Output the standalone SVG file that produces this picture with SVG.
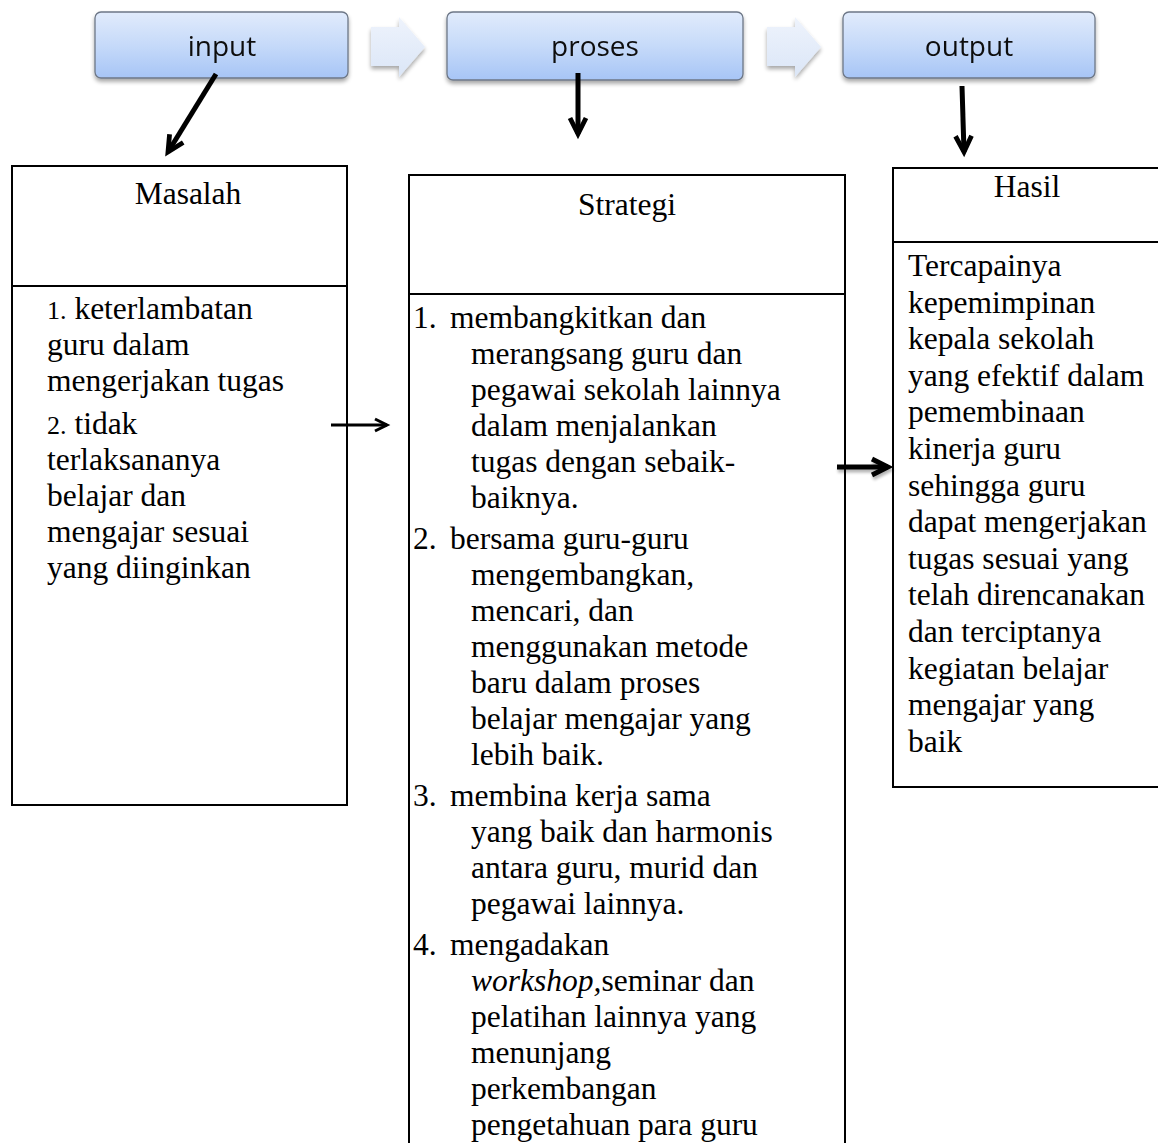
<svg xmlns="http://www.w3.org/2000/svg" width="1158" height="1143" viewBox="0 0 1158 1143">
<style>
.top{stroke:#6d7787;stroke-width:1.3;fill:url(#gBlue)}
.toptxt{font-family:"Open Sans","Noto Sans",sans-serif;font-size:28px;fill:#111;text-anchor:middle}
.chev{fill:url(#gChev)}
.box{fill:#fff;stroke:#000;stroke-width:2}
.div{stroke:#000;stroke-width:2}
.t{font-family:"Liberation Serif","Times New Roman",serif;font-size:31.5px;fill:#000}
.h{text-anchor:middle}
.arr{stroke:#000;fill:none;stroke-linecap:butt}
</style>
<defs>
<linearGradient id="gBlue" x1="0" y1="0" x2="0" y2="1">
<stop offset="0" stop-color="#e1ebfc"/>
<stop offset="0.5" stop-color="#c6daf9"/>
<stop offset="1" stop-color="#a7c5f6"/>
</linearGradient>
<linearGradient id="gChev" x1="0" y1="0" x2="0" y2="1">
<stop offset="0" stop-color="#eef3fc"/>
<stop offset="1" stop-color="#dbe6f7"/>
</linearGradient>
<filter id="sh" x="-10%" y="-20%" width="120%" height="150%">
<feGaussianBlur in="SourceAlpha" stdDeviation="2"/>
<feOffset dx="0" dy="3" result="b"/>
<feComponentTransfer><feFuncA type="linear" slope="0.35"/></feComponentTransfer>
<feMerge><feMergeNode/><feMergeNode in="SourceGraphic"/></feMerge>
</filter>
<filter id="sh2" filterUnits="userSpaceOnUse" x="820" y="445" width="90" height="50">
<feGaussianBlur in="SourceAlpha" stdDeviation="1.5"/>
<feOffset dx="1" dy="3" result="b"/>
<feComponentTransfer><feFuncA type="linear" slope="0.3"/></feComponentTransfer>
<feMerge><feMergeNode/><feMergeNode in="SourceGraphic"/></feMerge>
</filter>
<marker id="ah" viewBox="0 0 10 10" refX="9" refY="5" markerWidth="4" markerHeight="4" markerUnits="strokeWidth" orient="auto" overflow="visible">
<path d="M1,1 L9,5 L1,9" fill="none" stroke="#000" stroke-width="2.4" stroke-linejoin="miter"/>
</marker>
<marker id="ahs" viewBox="0 0 10 10" refX="9" refY="5" markerWidth="5" markerHeight="5" markerUnits="strokeWidth" orient="auto" overflow="visible">
<path d="M1,1 L9,5 L1,9" fill="none" stroke="#000" stroke-width="2" stroke-linejoin="miter"/>
</marker>
</defs>
<rect width="1158" height="1143" fill="#fff"/>

<g id="node-input" filter="url(#sh)">
<rect class="top" x="95" y="12" width="253" height="66" rx="6"/>
<text class="toptxt" x="222" y="56">input</text>
</g>
<g id="chevron-1" filter="url(#sh)">
<path class="chev" d="M371,27 H399 V17 L425,47 L399,77 V66 H371 Z"/>
</g>
<g id="node-proses" filter="url(#sh)">
<rect class="top" x="447" y="12" width="296" height="68" rx="6"/>
<text class="toptxt" x="595" y="56">proses</text>
</g>
<g id="chevron-2" filter="url(#sh)">
<path class="chev" d="M767,27 H795 V17 L821,47 L795,77 V66 H767 Z"/>
</g>
<g id="node-output" filter="url(#sh)">
<rect class="top" x="843" y="12" width="252" height="66" rx="6"/>
<text class="toptxt" x="969" y="56">output</text>
</g>

<g id="node-masalah">
<rect class="box" x="12" y="166" width="335" height="639"/>
<line class="div" x1="12" y1="286" x2="347" y2="286"/>
<text class="t h" x="188" y="204">Masalah</text>
<text class="t" x="47" y="319"><tspan font-size="26">1.</tspan> keterlambatan</text>
<text class="t" x="47" y="355">guru dalam</text>
<text class="t" x="47" y="391">mengerjakan tugas</text>
<text class="t" x="47" y="434"><tspan font-size="26">2.</tspan> tidak</text>
<text class="t" x="47" y="470">terlaksananya</text>
<text class="t" x="47" y="506">belajar dan</text>
<text class="t" x="47" y="542">mengajar sesuai</text>
<text class="t" x="47" y="578">yang diinginkan</text>
</g>

<g id="node-strategi">
<rect class="box" x="409" y="175" width="436" height="990"/>
<line class="div" x1="409" y1="294" x2="845" y2="294"/>
<text class="t h" x="627" y="215">Strategi</text>
<text class="t" x="413" y="328">1.</text><text class="t" x="450" y="328">membangkitkan dan</text>
<text class="t" x="471" y="364">merangsang guru dan</text>
<text class="t" x="471" y="400">pegawai sekolah lainnya</text>
<text class="t" x="471" y="436">dalam menjalankan</text>
<text class="t" x="471" y="472">tugas dengan sebaik-</text>
<text class="t" x="471" y="508">baiknya.</text>
<text class="t" x="413" y="549">2.</text><text class="t" x="450" y="549">bersama guru-guru</text>
<text class="t" x="471" y="585">mengembangkan,</text>
<text class="t" x="471" y="621">mencari, dan</text>
<text class="t" x="471" y="657">menggunakan metode</text>
<text class="t" x="471" y="693">baru dalam proses</text>
<text class="t" x="471" y="729">belajar mengajar yang</text>
<text class="t" x="471" y="765">lebih baik.</text>
<text class="t" x="413" y="806">3.</text><text class="t" x="450" y="806">membina kerja sama</text>
<text class="t" x="471" y="842">yang baik dan harmonis</text>
<text class="t" x="471" y="878">antara guru, murid dan</text>
<text class="t" x="471" y="914">pegawai lainnya.</text>
<text class="t" x="413" y="955">4.</text><text class="t" x="450" y="955">mengadakan</text>
<text class="t" x="471" y="991"><tspan font-style="italic">workshop,</tspan>seminar dan</text>
<text class="t" x="471" y="1027">pelatihan lainnya yang</text>
<text class="t" x="471" y="1063">menunjang</text>
<text class="t" x="471" y="1099">perkembangan</text>
<text class="t" x="471" y="1135">pengetahuan para guru</text>
</g>

<g id="node-hasil">
<rect class="box" x="893" y="168" width="280" height="619"/>
<line class="div" x1="893" y1="242" x2="1173" y2="242"/>
<text class="t h" x="1027" y="197">Hasil</text>
<text class="t" x="908" y="276">Tercapainya</text>
<text class="t" x="908" y="312.6">kepemimpinan</text>
<text class="t" x="908" y="349.2">kepala sekolah</text>
<text class="t" x="908" y="385.8">yang efektif dalam</text>
<text class="t" x="908" y="422.4">pemembinaan</text>
<text class="t" x="908" y="459">kinerja guru</text>
<text class="t" x="908" y="495.6">sehingga guru</text>
<text class="t" x="908" y="532.2">dapat mengerjakan</text>
<text class="t" x="908" y="568.8">tugas sesuai yang</text>
<text class="t" x="908" y="605.4">telah direncanakan</text>
<text class="t" x="908" y="642">dan terciptanya</text>
<text class="t" x="908" y="678.6">kegiatan belajar</text>
<text class="t" x="908" y="715.2">mengajar yang</text>
<text class="t" x="908" y="751.8">baik</text>
</g>

<g id="connectors">
<path class="arr" d="M216,74 L168,152" stroke-width="5" marker-end="url(#ah)"/>
<path class="arr" d="M578,73 L578,134" stroke-width="5" marker-end="url(#ah)"/>
<path class="arr" d="M962,86 L964,152" stroke-width="5" marker-end="url(#ah)"/>
<path class="arr" d="M331,425 L387,425" stroke-width="3" marker-end="url(#ahs)"/>
<g filter="url(#sh2)"><path class="arr" d="M837,467 L888,467" stroke-width="5" marker-end="url(#ah)"/></g>
</g>
</svg>
